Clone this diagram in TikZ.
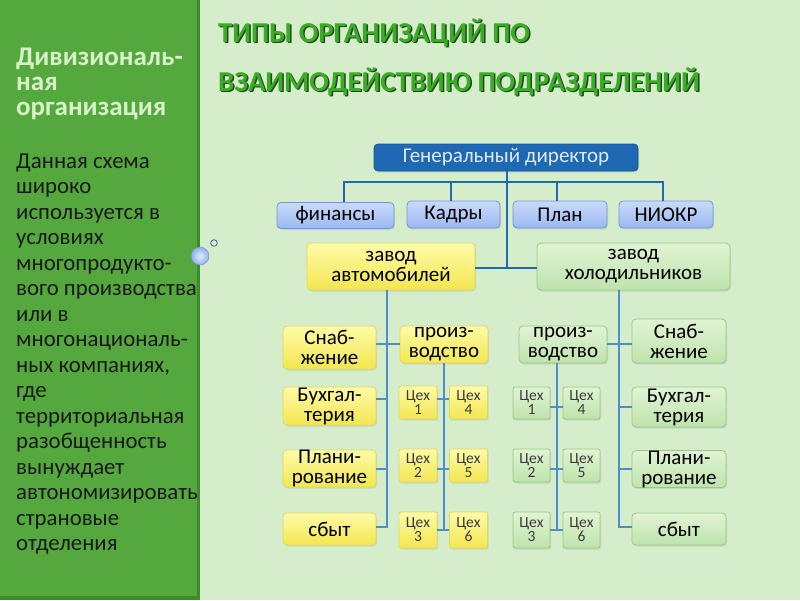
\documentclass[tikz,border=0pt]{standalone}
\usepackage{fontspec}
\setmainfont{Carlito}
\usetikzlibrary{shadows}
\definecolor{bg}{HTML}{D6EDCB}
\definecolor{panel}{HTML}{55A83D}
\definecolor{paneledge}{HTML}{3F8A2C}
\definecolor{lefttitle}{HTML}{D8F2C8}
\definecolor{titlegreen}{HTML}{3DAA2A}
\definecolor{titleshadow}{HTML}{1C4E12}
\definecolor{gdfill}{HTML}{1F68B4}
\definecolor{gdtext}{HTML}{DCEBFA}
\definecolor{topline}{HTML}{2468B0}
\definecolor{subline}{HTML}{4C8FCB}
\definecolor{bluetop}{HTML}{CADBFA}
\definecolor{bluebot}{HTML}{9AB8F0}
\definecolor{blueedge}{HTML}{7496D6}
\definecolor{yeltop}{HTML}{FFFBA8}
\definecolor{yelbot}{HTML}{F2E650}
\definecolor{yeledge}{HTML}{E2D860}
\definecolor{grntop}{HTML}{E0F4D4}
\definecolor{grnbot}{HTML}{BFE3AC}
\definecolor{grnedge}{HTML}{98C886}
\definecolor{ballin}{HTML}{E2ECFC}
\definecolor{ballout}{HTML}{8FB0EA}
\definecolor{cehtext}{HTML}{3A3A3A}
\tikzset{
  boxbase/.style={rounded corners=4pt, line width=0.8pt, align=center, inner sep=0pt,
    font=\fontsize{21}{20}\selectfont,
    drop shadow={opacity=0.18, shadow xshift=1pt, shadow yshift=-1.5pt}},
  bluebox/.style={boxbase, draw=blueedge, top color=bluetop, bottom color=bluebot},
  yelbox/.style={boxbase, draw=yeledge, top color=yeltop, bottom color=yelbot},
  grnbox/.style={boxbase, draw=grnedge, top color=grntop, bottom color=grnbot},
  cehfont/.style={font=\fontsize{15.5}{14}\selectfont, text=cehtext},
  cehy/.style={yelbox, rounded corners=2pt, cehfont, minimum width=38pt},
  cehg/.style={grnbox, rounded corners=2pt, cehfont, minimum width=37pt},
  gdbox/.style={boxbase, draw=gdfill!80!black, fill=gdfill, text=gdtext},
  topln/.style={draw=topline, line width=2.6pt},
  subln/.style={draw=subline, line width=1.3pt},
  bodytxt/.style={anchor=base west, inner sep=0pt, font=\fontsize{22.8}{25}\selectfont, text=black!90},
  ltitle/.style={anchor=base west, inner sep=0pt, font=\fontsize{27}{25}\selectfont\bfseries, text=lefttitle},
  ttl/.style={anchor=base west, inner sep=0pt, font=\fontsize{28.8}{26}\selectfont\bfseries},
}
\begin{document}
\begin{tikzpicture}[x=1pt,y=-1pt]
\useasboundingbox (0,0) rectangle (800,600);
\fill[bg] (0,0) rectangle (800,600);
\fill[panel] (0,0) rectangle (200,600);
\fill[paneledge] (197,0) rectangle (200,600);
\fill[paneledge] (0,596) rectangle (200,600);

% decorative circles
\shade[inner color=ballin, outer color=ballout] (200,256) circle (9);
\draw[draw=ballout!80!black, line width=0.4pt] (200,256) circle (9);
\draw[draw=blue!30!gray, line width=0.8pt] (214,243) circle (3.3);

% left title
\node[ltitle] (lt1) at (16,65) {Дивизиональ-};
\node[ltitle] (lt2) at (16,90) {ная};
\node[ltitle] (lt3) at (16,115) {организация};

% body text
\foreach \t [count=\i from 0] in {Данная схема,широко,используется в,условиях,многопродукто-,вого производства,или в,многонациональ-,{ных компаниях,},где,территориальная,разобщенность,вынуждает,автономизировать,страновые,отделения}
  \node[bodytxt] (body\i) at (16,168+25.5*\i) {\t};

% main title
\node[ttl, text=titleshadow] (t1s) at (219.5,43.5) {ТИПЫ ОРГАНИЗАЦИЙ ПО};
\node[ttl, text=titlegreen] (t1) at (218,42) {ТИПЫ ОРГАНИЗАЦИЙ ПО};
\node[ttl, text=titleshadow] (t2s) at (219.5,92.5) {ВЗАИМОДЕЙСТВИЮ ПОДРАЗДЕЛЕНИЙ};
\node[ttl, text=titlegreen] (t2) at (218,91) {ВЗАИМОДЕЙСТВИЮ ПОДРАЗДЕЛЕНИЙ};

% top level
\node[gdbox, minimum width=264pt, minimum height=27pt] (gd) at (506,157.5) {Генеральный директор};
\node[bluebox, minimum width=117pt, minimum height=26pt] (fin) at (335.5,215.5) {финансы};
\node[bluebox, minimum width=93pt, minimum height=27pt] (kad) at (453.5,214.5) {Кадры};
\node[bluebox, minimum width=94pt, minimum height=27pt] (plan) at (560,214.5) {План};
\node[bluebox, minimum width=94pt, minimum height=27pt] (niokr) at (666,214.5) {НИОКР};

\node[yelbox, minimum width=168pt, minimum height=47pt] (za) at (391,266.5) {завод\\автомобилей};
\node[grnbox, minimum width=193pt, minimum height=47pt] (zh) at (633.5,266.5) {завод\\холодильников};

\coordinate (barL) at (344,182);
\coordinate (barR) at (663,182);
\coordinate (hub) at (507,268);
\coordinate (dK) at (451,182);
\coordinate (dP) at (557,182);

% left subtree
\node[yelbox, minimum width=93pt, minimum height=43pt] (snL) at (329.5,347.5) {Снаб-\\жение};
\node[yelbox, minimum width=88pt, minimum height=37pt] (prL) at (444,344.5) {произ-\\водство};
\node[yelbox, minimum width=93pt, minimum height=38pt] (buL) at (329.5,406) {Бухгал-\\терия};
\node[yelbox, minimum width=93pt, minimum height=37pt] (plL) at (329.5,468.5) {Плани-\\рование};
\node[yelbox, minimum width=93pt, minimum height=32pt] (sbL) at (329.5,529) {сбыт};
\node[cehy, minimum height=33pt] (c1L) at (418,402.5) {Цех\\1};
\node[cehy, minimum height=33pt] (c4L) at (468.5,402.5) {Цех\\4};
\node[cehy, minimum height=33pt] (c2L) at (418,465.5) {Цех\\2};
\node[cehy, minimum height=33pt] (c5L) at (468.5,465.5) {Цех\\5};
\node[cehy, minimum height=36pt] (c3L) at (418,530) {Цех\\3};
\node[cehy, minimum height=36pt] (c6L) at (468.5,530) {Цех\\6};

% right subtree
\node[grnbox, minimum width=88pt, minimum height=37pt] (prR) at (563,344.5) {произ-\\водство};
\node[grnbox, minimum width=94pt, minimum height=44pt] (snR) at (679,341) {Снаб-\\жение};
\node[grnbox, minimum width=94pt, minimum height=40pt] (buR) at (679,407) {Бухгал-\\терия};
\node[grnbox, minimum width=94pt, minimum height=36pt] (plR) at (679,469) {Плани-\\рование};
\node[grnbox, minimum width=94pt, minimum height=32pt] (sbR) at (679,529) {сбыт};
\node[cehg, minimum height=32pt] (c1R) at (531.5,403) {Цех\\1};
\node[cehg, minimum height=32pt] (c4R) at (581.5,403) {Цех\\4};
\node[cehg, minimum height=33pt] (c2R) at (531.5,465.5) {Цех\\2};
\node[cehg, minimum height=33pt] (c5R) at (581.5,465.5) {Цех\\5};
\node[cehg, minimum height=36pt] (c3R) at (531.5,530) {Цех\\3};
\node[cehg, minimum height=36pt] (c6R) at (581.5,530) {Цех\\6};

% connectors
\coordinate (vL) at (387,290);
\coordinate (vR) at (619,290);
\coordinate (pvL) at (444,363);
\coordinate (pvR) at (557,363);

\draw[topln] (barL |- fin.north) -- (barL) -- (barR) -- (barR |- niokr.north);
\draw[topln, line width=1.2pt] (dK) -- (dK |- kad.north);
\draw[topln, line width=1.2pt] (dP) -- (dP |- plan.north);
\draw[topln] (gd.south -| hub) -- (hub);
\draw[topln] (za.east |- hub) -- (zh.west |- hub);

\draw[subln] (vL) -- (387,527) -- (sbL.east |- 0,527);
\draw[subln] (snL.east |- 0,344) -- (prL.west |- 0,344);
\draw[subln] (buL.east |- 0,399) -- (387,399);
\draw[subln] (plL.east |- 0,469) -- (387,469);
\draw[subln] (pvL) -- (444,530);
\draw[subln] (c1L.east |- 0,399) -- (c4L.west |- 0,399);
\draw[subln] (c2L.east |- 0,469) -- (c5L.west |- 0,469);
\draw[subln] (c3L.east |- 0,530) -- (c6L.west |- 0,530);

\draw[subln] (vR) -- (619,527) -- (sbR.west |- 0,527);
\draw[subln] (prR.east |- 0,344) -- (snR.west |- 0,344);
\draw[subln] (buR.west |- 0,407) -- (619,407);
\draw[subln] (plR.west |- 0,469) -- (619,469);
\draw[subln] (pvR) -- (557,530);
\draw[subln] (c1R.east |- 0,407) -- (c4R.west |- 0,407);
\draw[subln] (c2R.east |- 0,469) -- (c5R.west |- 0,469);
\draw[subln] (c3R.east |- 0,530) -- (c6R.west |- 0,530);
\end{tikzpicture}
\end{document}
